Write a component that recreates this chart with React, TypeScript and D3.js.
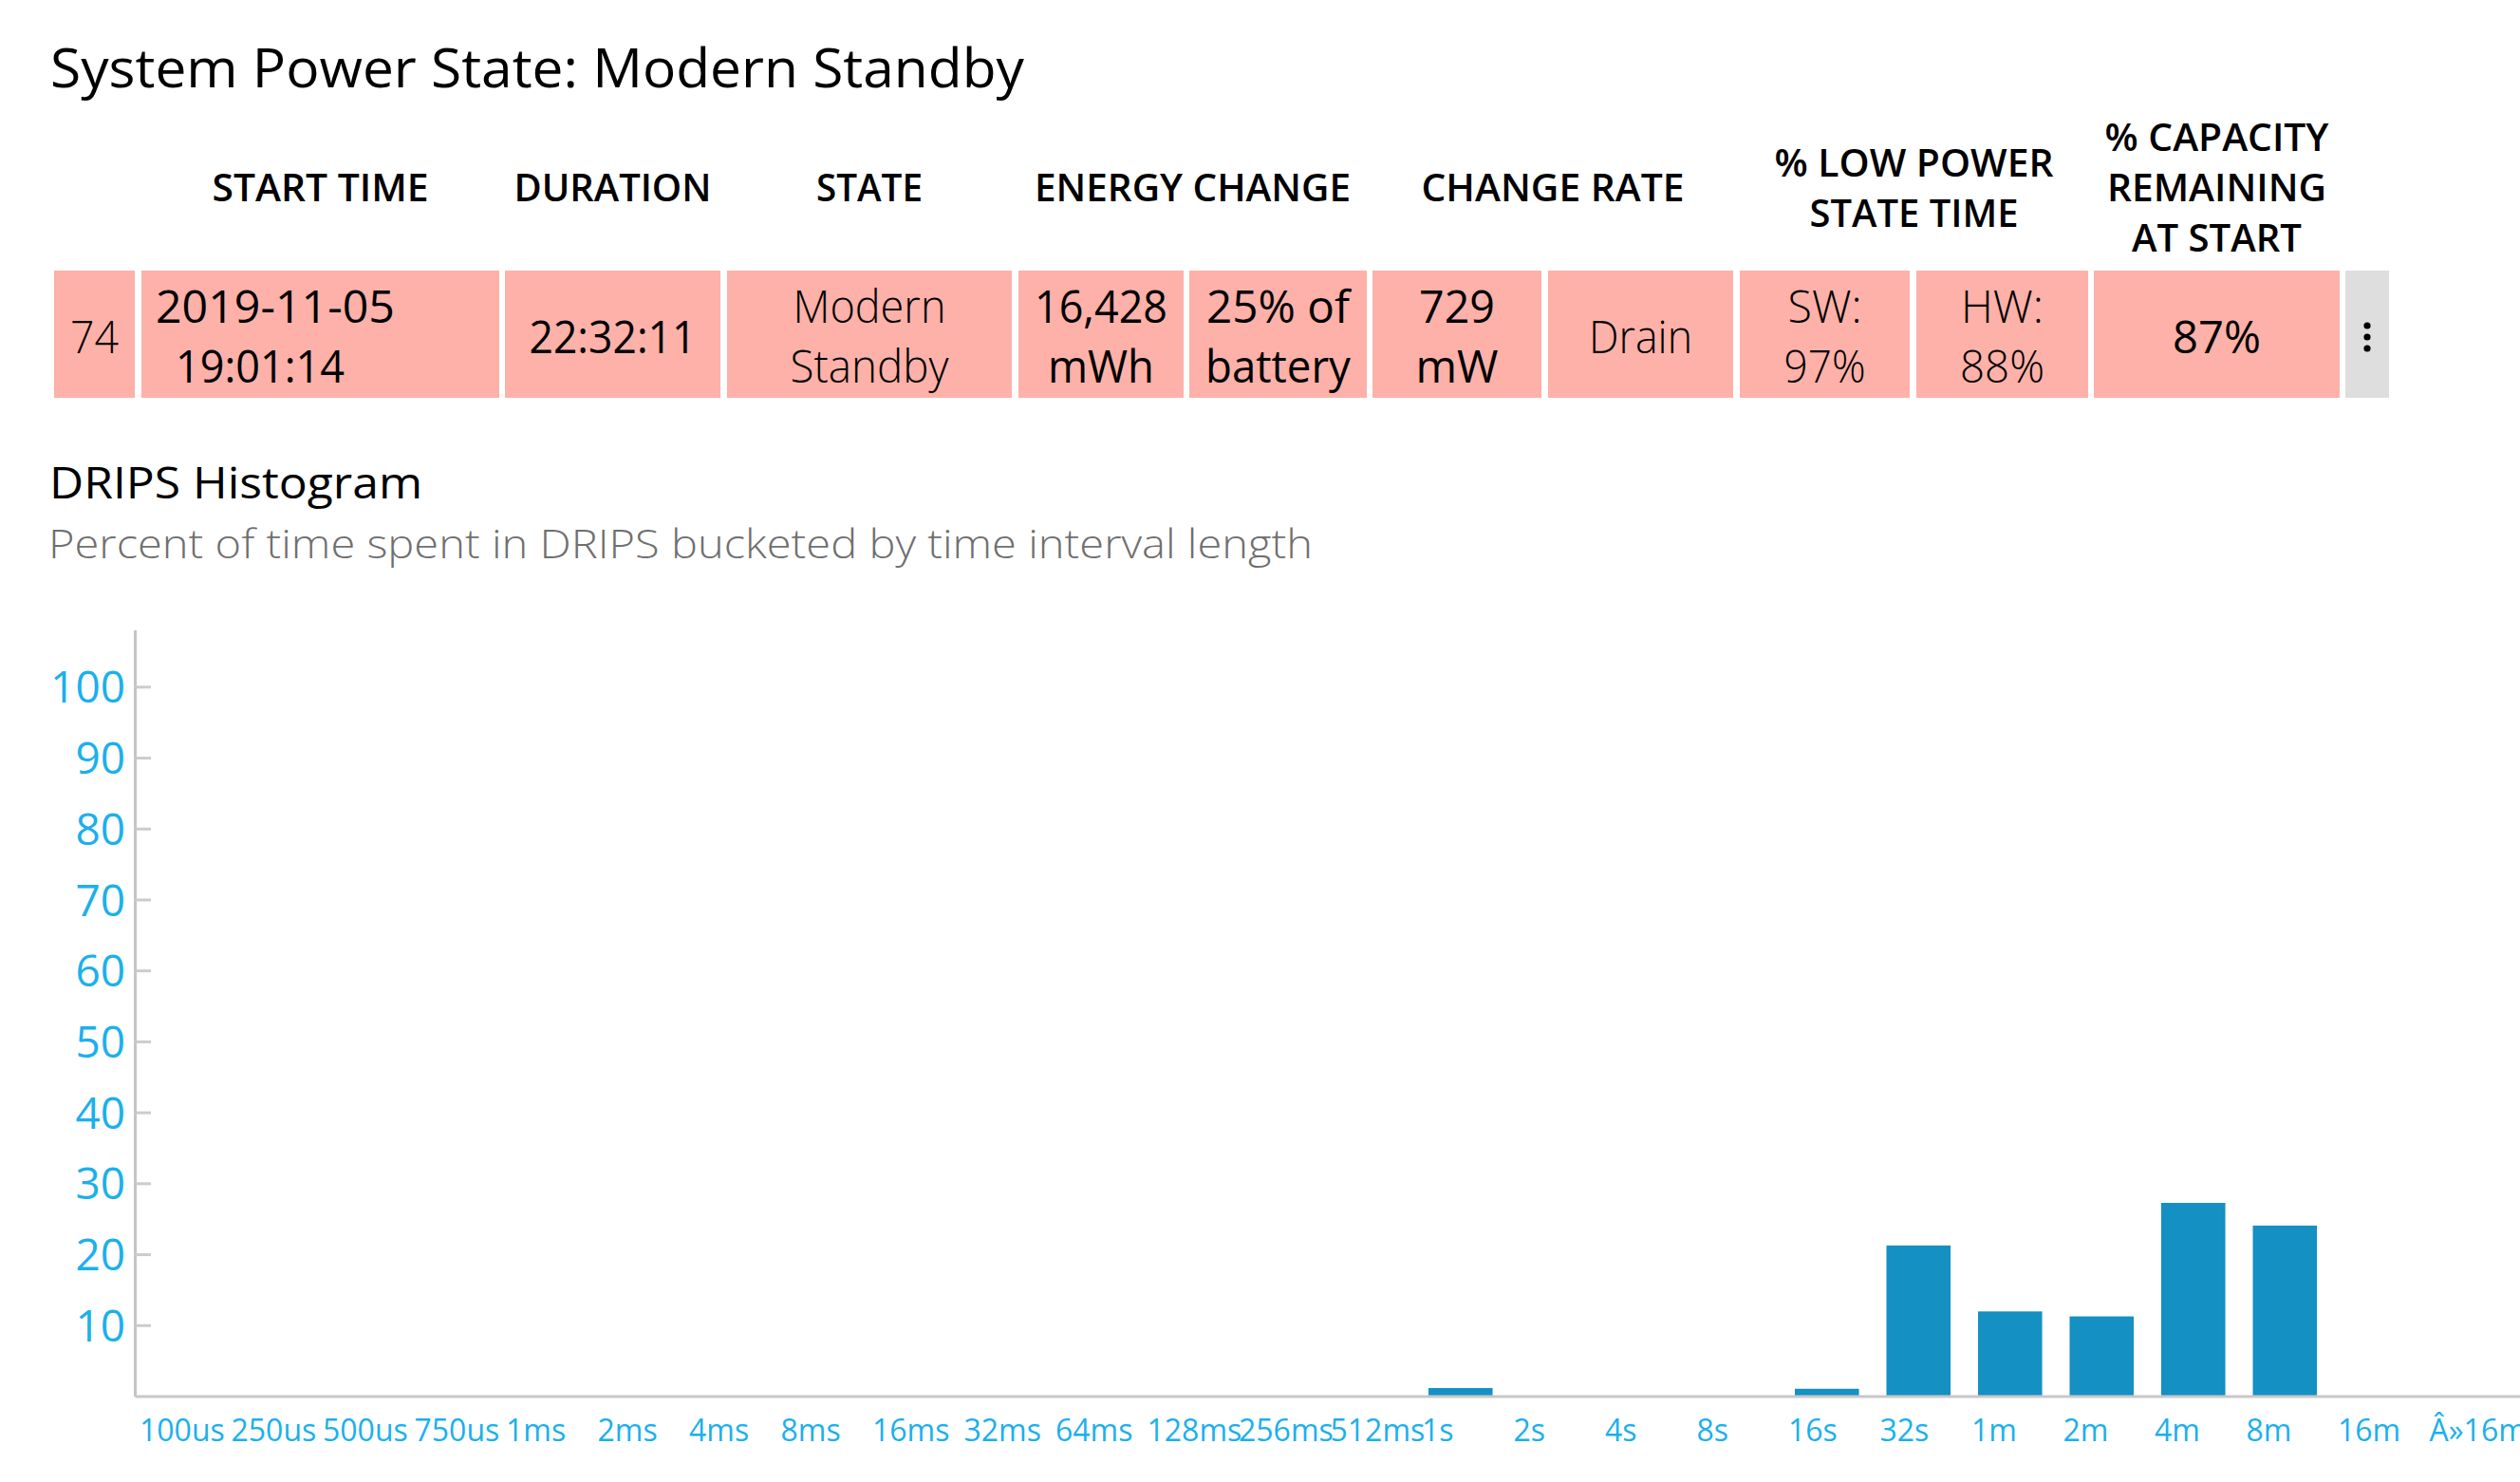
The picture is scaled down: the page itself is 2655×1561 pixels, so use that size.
import React from 'react';
import * as d3 from 'd3';

// ---------- data ----------
const categories = [
  '100us', '250us', '500us', '750us', '1ms', '2ms', '4ms', '8ms', '16ms', '32ms', '64ms',
  '128ms', '256ms', '512ms', '1s', '2s', '4s', '8s', '16s', '32s', '1m', '2m', '4m', '8m',
  '16m', 'Â»16m',
];
const percentValues = [
  0, 0, 0, 0, 0, 0, 0, 0, 0, 0, 0,
  0, 0, 0, 1.2, 0, 0, 0, 1.1, 21.3, 12.0, 11.3, 27.3, 24.1,
  0, 0,
];
const yTicks = [10, 20, 30, 40, 50, 60, 70, 80, 90, 100];

const pageTitle = 'System Power State: Modern Standby';
const chartTitle = 'DRIPS Histogram';
const chartSubtitle = 'Percent of time spent in DRIPS bucketed by time interval length';

const headerLabels = [
  ['START TIME'],
  ['DURATION'],
  ['STATE'],
  ['ENERGY CHANGE'],
  ['CHANGE RATE'],
  ['% LOW POWER', 'STATE TIME'],
  ['% CAPACITY', 'REMAINING', 'AT START'],
];
const rowValues = [
  ['74'],
  ['2019-11-05', '19:01:14'],
  ['22:32:11'],
  ['Modern', 'Standby'],
  ['16,428', 'mWh'],
  ['25% of', 'battery'],
  ['729', 'mW'],
  ['Drain'],
  ['SW:', '97%'],
  ['HW:', '88%'],
  ['87%'],
];

// ---------- layout ----------
const W = 2655;
const H = 1561;
const FONT = "'Segoe UI', 'Open Sans', sans-serif";

const cellBounds: [number, number][] = [
  [57, 142], [149, 526], [532, 759], [766, 1066], [1073, 1247], [1253, 1440],
  [1446, 1624], [1631, 1826], [1833, 2012], [2019, 2200], [2206, 2465],
];
const menuCell: [number, number] = [2471, 2517];
const headerSpans: [number, number][] = [[1, 1], [2, 2], [3, 3], [4, 5], [6, 7], [8, 9], [10, 10]];
const headerWidths = [[228], [208], [112], [333], [277], [294, 220], [236, 231, 179]];
const cellWeights = [300, 400, 400, 300, 400, 400, 400, 300, 300, 300, 400];
const cellWidths = [
  [51], [252, 178], [176], [161, 167], [140, 112], [151, 153], [80, 87], [109], [78, 86], [87, 89], [93],
];
const rowTop = 285;
const rowBottom = 419;

const chartLeft = 142.5;
const chartBottom = 1471;
const chartTopY = 664;

export default function App() {
  const x = d3
    .scaleBand<string>()
    .domain(categories)
    .range([154, 154 + 96.5 * 25.7])
    .paddingInner(0.3)
    .paddingOuter(0)
    .align(0);
  const y = d3.scaleLinear().domain([0, 108]).range([chartBottom, chartTopY]);

  const tickColor = '#1bb0ec';

  return (
    <svg
      width={W}
      height={H}
      viewBox={`0 0 ${W} ${H}`}
      style={{ position: 'absolute', left: 0, top: 0, background: '#fff' }}
      fontFamily={FONT}
    >
      <rect x={0} y={0} width={W} height={H} fill="#ffffff" />

      {/* page title */}
      <text x={53} y={92} fontSize={56} fill="#000" textLength={1026} lengthAdjust="spacingAndGlyphs">
        {pageTitle}
      </text>

      {/* table headers */}
      {headerLabels.map((lines, i) => {
        const [a, b] = headerSpans[i];
        const cx = (cellBounds[a][0] + cellBounds[b][1]) / 2;
        const n = lines.length;
        return lines.map((ln, j) => (
          <text
            key={`h${i}-${j}`}
            x={cx}
            y={212 + (j - (n - 1) / 2) * 53}
            textAnchor="middle"
            fontSize={40}
            fontWeight={600}
            fill="#000"
            textLength={headerWidths[i][j]}
            lengthAdjust="spacingAndGlyphs"
          >
            {ln}
          </text>
        ));
      })}

      {/* table row */}
      {cellBounds.map(([x0, x1], i) => (
        <rect key={`c${i}`} x={x0} y={rowTop} width={x1 - x0} height={rowBottom - rowTop} fill="#fdb1a9" />
      ))}
      <rect x={menuCell[0]} y={rowTop} width={menuCell[1] - menuCell[0]} height={rowBottom - rowTop} fill="#dedede" />
      {[343, 355, 367].map((cy) => (
        <circle key={`d${cy}`} cx={(menuCell[0] + menuCell[1]) / 2} cy={cy} r={3.6} fill="#000" />
      ))}

      {rowValues.map((lines, i) => {
        const [x0, x1] = cellBounds[i];
        const cx = (x0 + x1) / 2;
        const n = lines.length;
        return lines.map((ln, j) => {
          const baseY = n === 1 ? 372 : j === 0 ? 340 : 403;
          const isDate = i === 1;
          return (
            <text
              key={`v${i}-${j}`}
              x={isDate ? x0 + (j === 0 ? 15 : 36) : cx}
              y={baseY}
              textAnchor={isDate ? 'start' : 'middle'}
              fontSize={47}
              fontWeight={cellWeights[i]}
              fill="#000"
              textLength={cellWidths[i][j]}
              lengthAdjust="spacingAndGlyphs"
            >
              {ln}
            </text>
          );
        });
      })}

      {/* chart titles */}
      <text x={52} y={525} fontSize={46} fill="#000" textLength={393} lengthAdjust="spacingAndGlyphs">
        {chartTitle}
      </text>
      <text x={51} y={588} fontSize={43} fontWeight={300} fill="#6f6f6f" textLength={1332} lengthAdjust="spacingAndGlyphs">
        {chartSubtitle}
      </text>

      {/* bars */}
      {categories.map((c, i) =>
        percentValues[i] > 0 ? (
          <rect
            key={`b${c}`}
            x={x(c)}
            y={y(percentValues[i])}
            width={x.bandwidth()}
            height={chartBottom - y(percentValues[i])}
            fill="#1490c2"
          />
        ) : null
      )}

      {/* axes */}
      <line x1={chartLeft} x2={chartLeft} y1={chartTopY} y2={chartBottom} stroke="#c4c4c4" strokeWidth={3} />
      <line x1={chartLeft} x2={W} y1={chartBottom} y2={chartBottom} stroke="#c8c8c8" strokeWidth={3} />

      {yTicks.map((t) => (
        <g key={`t${t}`}>
          <line x1={chartLeft} x2={159} y1={y(t)} y2={y(t)} stroke="#cccccc" strokeWidth={3} />
          <text x={132} y={y(t)} dy="0.36em" textAnchor="end" fontSize={46} fill={tickColor}>
            {t}
          </text>
        </g>
      ))}

      {categories.map((c) => (
        <text key={`xl${c}`} x={(x(c) as number) - 7} y={1518} fontSize={32} fill={tickColor}>
          {c}
        </text>
      ))}
    </svg>
  );
}
